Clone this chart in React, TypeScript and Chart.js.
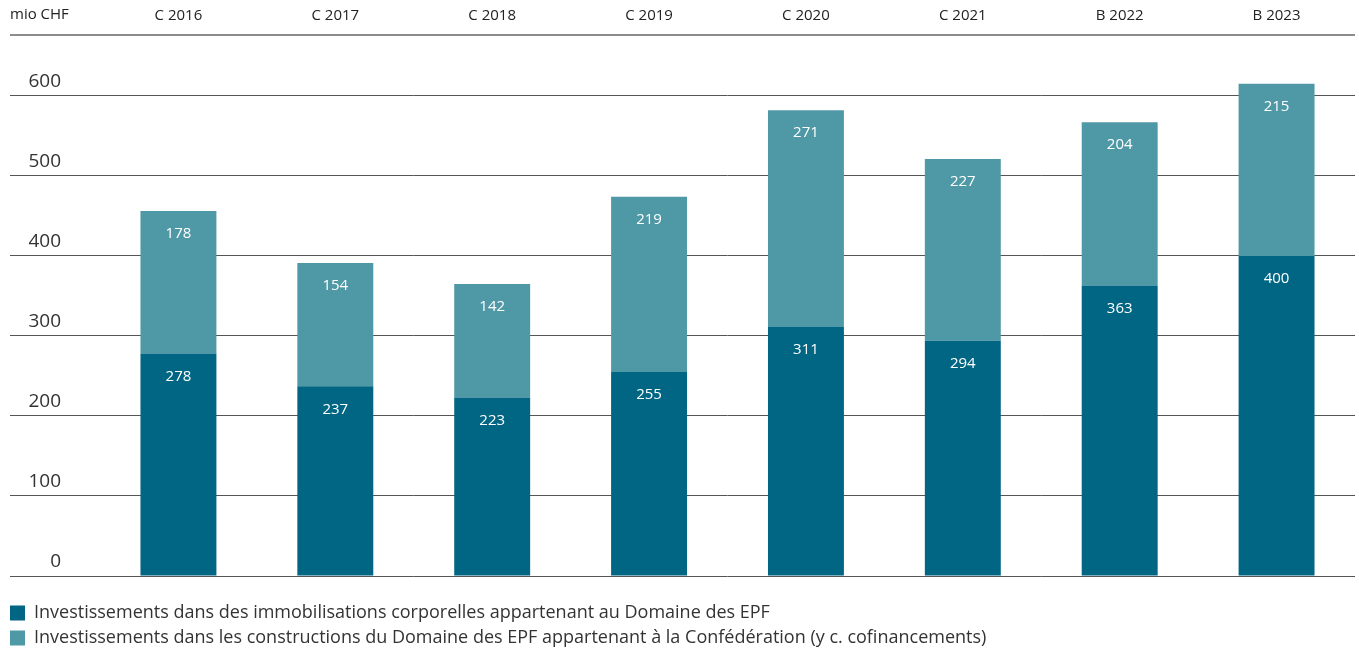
import React, { useEffect, useRef } from "react";
import { Chart, registerables } from "chart.js";

Chart.register(...registerables);

const categories = ["C 2016", "C 2017", "C 2018", "C 2019", "C 2020", "C 2021", "B 2022", "B 2023"];
const ownAssets = [278, 237, 223, 255, 311, 294, 363, 400];
const confBuildings = [178, 154, 142, 219, 271, 227, 204, 215];
const seriesLabels = [
  "Investissements dans des immobilisations corporelles appartenant au Domaine des EPF",
  "Investissements dans les constructions du Domaine des EPF appartenant à la Confédération (y c. cofinancements)",
];
const seriesColors = ["#006683", "#4f99a6"];
const yTickValues = [0, 100, 200, 300, 400, 500, 600];
const yMax = 676;
const unitLabel = "mio CHF";

const FONT = "'Open Sans', sans-serif";

const barLabelPlugin = {
  id: "barLabels",
  afterDatasetsDraw(chart: any) {
    const ctx = chart.ctx;
    ctx.save();
    ctx.fillStyle = "#ffffff";
    ctx.font = `15px ${FONT}`;
    ctx.textAlign = "center";
    ctx.textBaseline = "middle";
    chart.data.datasets.forEach((ds: any, di: number) => {
      const meta = chart.getDatasetMeta(di);
      meta.data.forEach((el: any, i: number) => {
        ctx.fillText(String(ds.data[i]), el.x, el.y + 23);
      });
    });
    ctx.restore();
  },
};

const headerPlugin = {
  id: "header",
  afterDraw(chart: any) {
    const ctx = chart.ctx;
    const area = chart.chartArea;
    const x = chart.scales.x;
    ctx.save();
    ctx.strokeStyle = "#8c8c8c";
    ctx.lineWidth = 2;
    ctx.beginPath();
    ctx.moveTo(10, area.top);
    ctx.lineTo(area.right, area.top);
    ctx.stroke();
    ctx.fillStyle = "#222222";
    ctx.font = `15px ${FONT}`;
    ctx.textAlign = "left";
    ctx.textBaseline = "middle";
    ctx.fillText(unitLabel, 10, x.bottom - 20);
    ctx.restore();
  },
};

export default function App() {
  const canvasRef = useRef<HTMLCanvasElement | null>(null);

  useEffect(() => {
    if (!canvasRef.current) return;
    const chart = new Chart(canvasRef.current, {
      type: "bar",
      data: {
        labels: categories,
        datasets: [
          {
            label: seriesLabels[0],
            data: ownAssets,
            backgroundColor: seriesColors[0],
            borderWidth: 0,
          },
          {
            label: seriesLabels[1],
            data: confBuildings,
            backgroundColor: seriesColors[1],
            borderWidth: 0,
          },
        ],
      },
      options: {
        animation: false,
        responsive: true,
        maintainAspectRatio: false,
        layout: { padding: { left: 3, right: 4, top: 0, bottom: -3 } },
        datasets: { bar: { categoryPercentage: 1, barPercentage: 76 / 157 } },
        plugins: {
          tooltip: { enabled: false },
          legend: {
            position: "bottom",
            align: "start",
            title: {
              display: true,
              text: " ",
              color: "rgba(0,0,0,0)",
              font: { family: FONT, size: 10, lineHeight: 1 },
              padding: { top: 11, bottom: 0 },
            },
            labels: {
              boxWidth: 15,
              boxHeight: 15,
              padding: 7,
              color: "#333333",
              font: { family: FONT, size: 18 },
            },
          },
        },
        scales: {
          x: {
            stacked: true,
            position: "top",
            grid: { display: false },
            border: { display: false },
            ticks: { color: "#222222", font: { family: FONT, size: 15 }, padding: 2 },
            afterFit: (s: any) => {
              s.height = 35;
            },
          },
          y: {
            stacked: true,
            min: 0,
            max: yMax,
            afterBuildTicks: (s: any) => {
              s.ticks = yTickValues.map((v) => ({ value: v }));
            },
            afterFit: (s: any) => {
              s.width = 97;
            },
            grid: { color: "#555555", lineWidth: 1, drawTicks: true, tickLength: 90 },
            border: { display: false },
            ticks: {
              color: "#333333",
              font: { family: FONT, size: 19 },
              padding: -51,
              labelOffset: -14,
              crossAlign: "near",
            },
          },
        },
      },
      plugins: [barLabelPlugin, headerPlugin],
    });
    return () => chart.destroy();
  }, []);

  return (
    <div style={{ position: "absolute", left: 0, top: 0, width: 1359, height: 654 }}>
      <canvas ref={canvasRef} />
    </div>
  );
}
